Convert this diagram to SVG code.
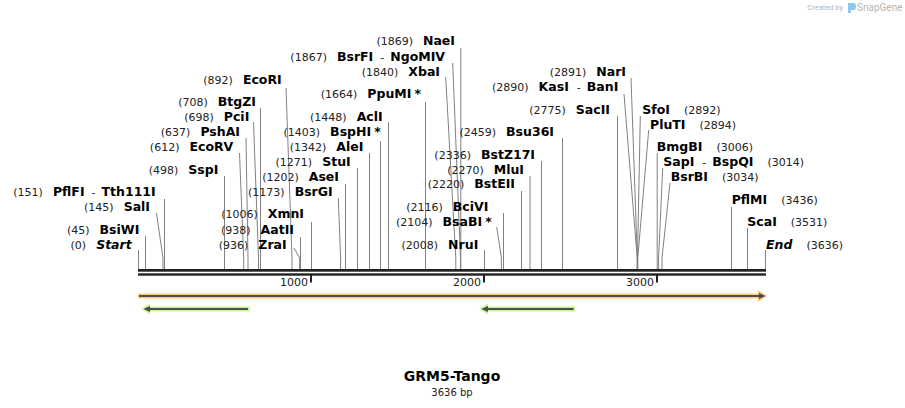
<svg xmlns="http://www.w3.org/2000/svg" width="905" height="408" viewBox="0 0 905 408">
<style>
.bg{fill:#fff}
.l{stroke:#808080;stroke-width:1;fill:none}
.t{font-family:"DejaVu Sans","Liberation Sans",sans-serif;font-size:11px;fill:#222}
.e{text-anchor:end}
.b{font-weight:bold;font-size:12.5px;fill:#000}
.i{font-style:italic}
.bb{fill:#222}
.tk{stroke:#222;stroke-width:2}
</style>
<rect class="bg" x="0" y="0" width="905" height="408"/>

<g id="watermark">
<text x="843" y="10" font-family="Roboto,'DejaVu Sans',sans-serif" font-size="7.5" fill="#b5b5b5" text-anchor="end">Created by</text>
<path d="M848,3 h5 q3,0 3,3 v1 q0,3 -3,3 h-2 v3 h-3 z" fill="#8fc8ec"/>
<text x="857" y="11" font-family="Roboto,'DejaVu Sans',sans-serif" font-size="10" fill="#b5b5b5">SnapGene</text>
</g>

<g id="connectors">
<path class="l" d="M138.5,250V269"/>
<path class="l" d="M145.5,236V269"/>
<path class="l" d="M156.5,213L163,258V269"/>
<path class="l" d="M164.5,199V269"/>
<path class="l" d="M224.5,176V269"/>
<path class="l" d="M239.5,153L243.7,258V269"/>
<path class="l" d="M246,138L248,258V269"/>
<path class="l" d="M253.5,122L258.5,258V269"/>
<path class="l" d="M260.5,108V269"/>
<path class="l" d="M286,88L292,258V269"/>
<path class="l" d="M294,248L299.7,258V269"/>
<path class="l" d="M300.5,237V269"/>
<path class="l" d="M311.5,222V269"/>
<path class="l" d="M338.3,198L340.6,258V269"/>
<path class="l" d="M345.5,184V269"/>
<path class="l" d="M357.5,168V269"/>
<path class="l" d="M369.5,153V269"/>
<path class="l" d="M380.5,141V269"/>
<path class="l" d="M388.5,122V269"/>
<path class="l" d="M425.5,102V269"/>
<path class="l" d="M445.7,77L455.8,258V269"/>
<path class="l" d="M452.7,63L460.5,258V269"/>
<path class="l" d="M460.8,48V269"/>
<path class="l" d="M484.5,250V269"/>
<path class="l" d="M496.7,227L501.4,258V269"/>
<path class="l" d="M503.5,213V269"/>
<path class="l" d="M521.5,191V269"/>
<path class="l" d="M530,176V269"/>
<path class="l" d="M541.5,161V269"/>
<path class="l" d="M562.5,138V269"/>
<path class="l" d="M617.5,116V269"/>
<path class="l" d="M624,94L637.2,258V269"/>
<path class="l" d="M631,78L637.3,258V269"/>
<path class="l" d="M640.3,116L637.5,258V269"/>
<path class="l" d="M648.7,130L637.8,258V269"/>
<path class="l" d="M657.2,153V269"/>
<path class="l" d="M662.7,168L658.6,258V269"/>
<path class="l" d="M670,183L662,258V269"/>
<path class="l" d="M731.5,207V269"/>
<path class="l" d="M747.5,228V269"/>
<path class="l" d="M765.5,250V269"/>
</g>

<g id="backbone">
<rect class="bb" x="138" y="269" width="628" height="2.7"/>
<rect class="bb" x="138" y="273.3" width="628" height="2.4"/>
<line class="tk" x1="311" y1="275" x2="311" y2="282.5"/>
<line class="tk" x1="484" y1="275" x2="484" y2="282.5"/>
<line class="tk" x1="657" y1="275" x2="657" y2="282.5"/>
<text class="t e" x="308" y="286">1000</text>
<text class="t e" x="481" y="286">2000</text>
<text class="t e" x="654" y="286">3000</text>
</g>

<g id="feature-orange">
<polygon points="138,293.4 758,293.4 758,290 767,296 758,302 758,298.4 138,298.4" fill="#f9c97d"/>
<line x1="139" y1="296" x2="760" y2="296" stroke="#4d4d4d" stroke-width="2"/>
<polygon points="759,293 765.5,296 759,299" fill="#4d4d4d"/>
</g>
<g id="feature-green-1">
<polygon points="141.5,309 150,303.5 150,306.6 249.5,306.6 249.5,311.6 150,311.6 150,314.5" fill="#c5f593"/>
<line x1="148" y1="309" x2="248" y2="309" stroke="#4d4d4d" stroke-width="2"/>
<polygon points="143.5,309 150,306 150,312" fill="#4d4d4d"/>
</g>
<g id="feature-green-2">
<polygon points="479.3,309 488,303.5 488,306.6 575,306.6 575,311.6 488,311.6 488,314.5" fill="#c5f593"/>
<line x1="486" y1="309" x2="573.5" y2="309" stroke="#4d4d4d" stroke-width="2"/>
<polygon points="481.3,309 488,306 488,312" fill="#4d4d4d"/>
</g>

<g id="site-start"><text class="t e" x="131.7" y="249">(0)<tspan class="b i" dx="10">Start</tspan></text></g>
<g id="site-bsiwi"><text class="t e" x="139.3" y="234">(45)<tspan class="b" dx="10">BsiWI</tspan></text></g>
<g id="site-sali"><text class="t e" x="150" y="211">(145)<tspan class="b" dx="10">SalI</tspan></text></g>
<g id="site-pflfi"><text class="t e" x="155.7" y="196">(151)<tspan class="b" dx="10">PflFI</tspan><tspan dx="7">-</tspan><tspan class="b" dx="6">Tth111I</tspan></text></g>
<g id="site-sspi"><text class="t e" x="218.3" y="174">(498)<tspan class="b" dx="10">SspI</tspan></text></g>
<g id="site-ecorv"><text class="t e" x="233.3" y="151">(612)<tspan class="b" dx="10">EcoRV</tspan></text></g>
<g id="site-pshai"><text class="t e" x="240" y="136">(637)<tspan class="b" dx="10">PshAI</tspan></text></g>
<g id="site-pcii"><text class="t e" x="249.3" y="121">(698)<tspan class="b" dx="10">PciI</tspan></text></g>
<g id="site-btgzi"><text class="t e" x="256" y="106">(708)<tspan class="b" dx="10">BtgZI</tspan></text></g>
<g id="site-ecori"><text class="t e" x="281.7" y="84">(892)<tspan class="b" dx="10">EcoRI</tspan></text></g>
<g id="site-zrai"><text class="t e" x="286.7" y="249">(936)<tspan class="b" dx="10">ZraI</tspan></text></g>
<g id="site-aatii"><text class="t e" x="294" y="234">(938)<tspan class="b" dx="10">AatII</tspan></text></g>
<g id="site-xmni"><text class="t e" x="304" y="218">(1006)<tspan class="b" dx="10">XmnI</tspan></text></g>
<g id="site-bsrgi"><text class="t e" x="332.7" y="196">(1173)<tspan class="b" dx="10">BsrGI</tspan></text></g>
<g id="site-asei"><text class="t e" x="339" y="181">(1202)<tspan class="b" dx="10">AseI</tspan></text></g>
<g id="site-stui"><text class="t e" x="350.7" y="166">(1271)<tspan class="b" dx="10">StuI</tspan></text></g>
<g id="site-alei"><text class="t e" x="363.3" y="151">(1342)<tspan class="b" dx="10">AleI</tspan></text></g>
<g id="site-bsphi"><text class="t e" x="380.7" y="136">(1403)<tspan class="b" dx="10">BspHI</tspan><tspan class="b" dx="3">*</tspan></text></g>
<g id="site-acli"><text class="t e" x="382.7" y="121">(1448)<tspan class="b" dx="10">AclI</tspan></text></g>
<g id="site-ppumi"><text class="t e" x="421" y="98">(1664)<tspan class="b" dx="10">PpuMI</tspan><tspan class="b" dx="3">*</tspan></text></g>
<g id="site-xbai"><text class="t e" x="440" y="76">(1840)<tspan class="b" dx="10">XbaI</tspan></text></g>
<g id="site-bsrfi"><text class="t e" x="445" y="61">(1867)<tspan class="b" dx="10">BsrFI</tspan><tspan dx="7">-</tspan><tspan class="b" dx="6">NgoMIV</tspan></text></g>
<g id="site-naei"><text class="t e" x="455" y="45">(1869)<tspan class="b" dx="10">NaeI</tspan></text></g>
<g id="site-nrui"><text class="t e" x="478.3" y="249">(2008)<tspan class="b" dx="10">NruI</tspan></text></g>
<g id="site-bsabi"><text class="t e" x="491.7" y="226">(2104)<tspan class="b" dx="10">BsaBI</tspan><tspan class="b" dx="3">*</tspan></text></g>
<g id="site-bcivi"><text class="t e" x="488.3" y="211">(2116)<tspan class="b" dx="10">BciVI</tspan></text></g>
<g id="site-bsteii"><text class="t e" x="515" y="188">(2220)<tspan class="b" dx="10">BstEII</tspan></text></g>
<g id="site-mlui"><text class="t e" x="524" y="174">(2270)<tspan class="b" dx="10">MluI</tspan></text></g>
<g id="site-bstz17i"><text class="t e" x="535" y="159">(2336)<tspan class="b" dx="10">BstZ17I</tspan></text></g>
<g id="site-bsu36i"><text class="t e" x="554" y="136">(2459)<tspan class="b" dx="10">Bsu36I</tspan></text></g>
<g id="site-sacii"><text class="t e" x="610" y="114">(2775)<tspan class="b" dx="10">SacII</tspan></text></g>
<g id="site-kasi"><text class="t e" x="618.3" y="91">(2890)<tspan class="b" dx="10">KasI</tspan><tspan dx="8">-</tspan><tspan class="b" dx="6">BanI</tspan></text></g>
<g id="site-nari"><text class="t e" x="626" y="76">(2891)<tspan class="b" dx="10">NarI</tspan></text></g>
<g id="site-sfoi"><text class="t" x="642.3" y="114"><tspan class="b">SfoI</tspan><tspan dx="14">(2892)</tspan></text></g>
<g id="site-pluti"><text class="t" x="650" y="129"><tspan class="b">PluTI</tspan><tspan dx="14">(2894)</tspan></text></g>
<g id="site-bmgbi"><text class="t" x="656.7" y="151"><tspan class="b">BmgBI</tspan><tspan dx="14">(3006)</tspan></text></g>
<g id="site-sapi"><text class="t" x="663.3" y="166"><tspan class="b">SapI</tspan><tspan dx="8">-</tspan><tspan class="b" dx="6">BspQI</tspan><tspan dx="14">(3014)</tspan></text></g>
<g id="site-bsrbi"><text class="t" x="670.7" y="181"><tspan class="b">BsrBI</tspan><tspan dx="14">(3034)</tspan></text></g>
<g id="site-pflmi"><text class="t" x="731.7" y="204"><tspan class="b">PflMI</tspan><tspan dx="14">(3436)</tspan></text></g>
<g id="site-scai"><text class="t" x="747.3" y="226"><tspan class="b">ScaI</tspan><tspan dx="14">(3531)</tspan></text></g>
<g id="site-end"><text class="t" x="766" y="249"><tspan class="b i">End</tspan><tspan dx="14">(3636)</tspan></text></g>

<g id="title">
<text x="452" y="381" font-family="'DejaVu Sans',sans-serif" font-size="14" font-weight="bold" text-anchor="middle" fill="#000">GRM5-Tango</text>
<text x="452" y="396" font-family="'DejaVu Sans',sans-serif" font-size="10" text-anchor="middle" fill="#222">3636 bp</text>
</g>
</svg>
